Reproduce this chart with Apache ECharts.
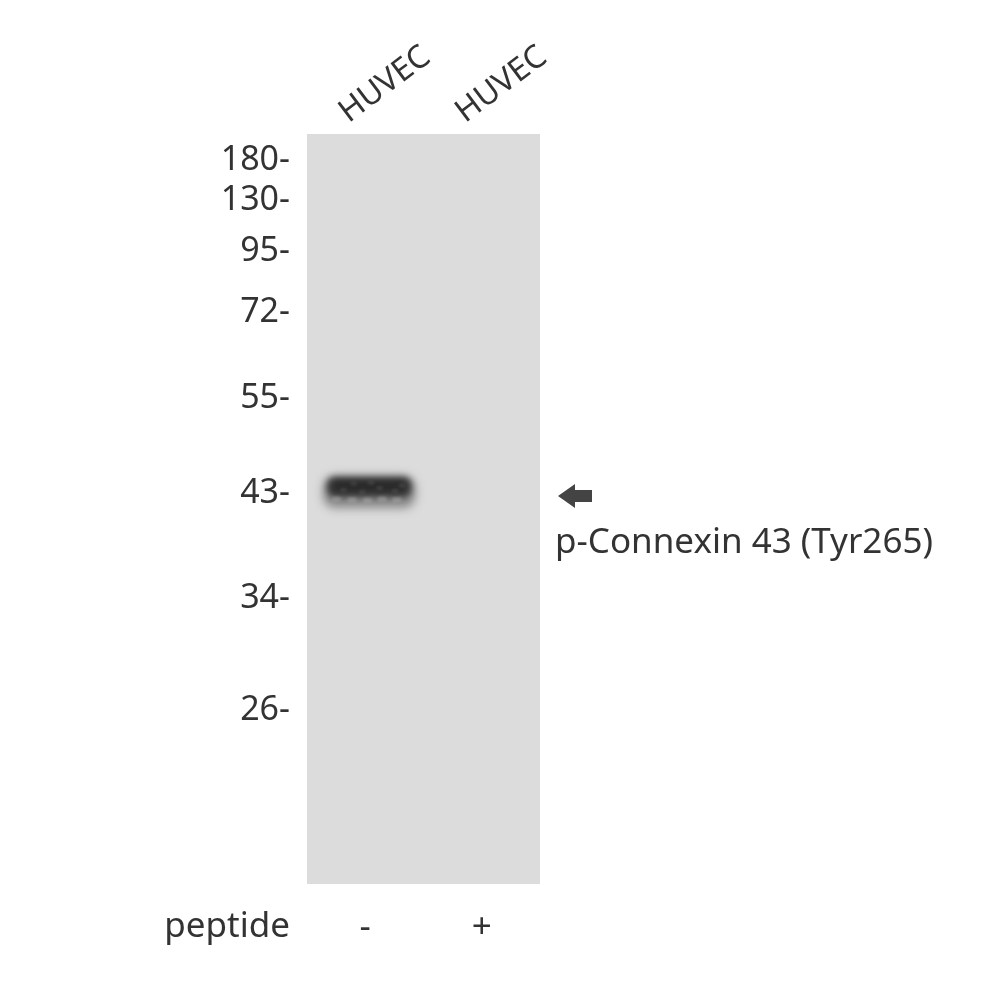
<!DOCTYPE html>
<html>
<head>
    <meta charset="UTF-8">
    <title>p-Connexin 43 (Tyr265) western blot</title>
    <style>
        html, body {
            margin: 0;
            padding: 0;
            background: #ffffff;
        }

        #chart {
            width: 1000px;
            height: 1000px;
        }
    </style>
    <script type="text/javascript" src="https://cdn.jsdelivr.net/npm/echarts@6/dist/echarts.min.js"></script>
</head>
<body>
<div id="chart"></div>
<script>
    // lane labels (top) and peptide treatment (bottom)
    const laneNames = ['HUVEC', 'HUVEC'];
    const peptide = ['-', '+'];

    // molecular weight ladder (kDa) and where each marker runs on the membrane
    // (0 = top of the blot, 750 = bottom)
    const markerKDa = [180, 130, 95, 72, 55, 43, 34, 26];
    const markerPos = [26.5, 66, 117, 178, 264, 359, 464, 576];

    // detected bands: [lane index, migration, relative intensity]
    const bands = [[0, 355, 1.0]];

    const target = 'p-Connexin 43 (Tyr265)';

    const FONT = 'Noto Sans';
    const TEXT = '#333333';
    // shapes are drawn off screen and only their blurred shadow lands on the blot
    const OFF = 3000;

    let chart = echarts.init(document.getElementById('chart'), null, {renderer: 'canvas'});

    function blob(cx, cy, w, h, r, blur, color) {
        return {
            type: 'rect',
            shape: {x: cx - w / 2 - OFF, y: cy - h / 2, width: w, height: h, r: r},
            style: {fill: '#000', shadowBlur: blur, shadowOffsetX: OFF, shadowColor: color}
        };
    }

    function renderBand(params, api) {
        let c = api.coord([api.value(0), api.value(1)]);
        let laneW = api.size([1, 0])[0];
        let k = api.value(2);
        let x = c[0] + 4;
        let y = c[1];
        let w = laneW * 0.74;
        let children = [
            // faint grey smear around and below the band
            blob(x, y + 3, w + 6, 32, 12, 10, 'rgba(80,80,80,' + 0.6 * k + ')'),
            // dark core
            blob(x, y - 2, w - 2, 20, 8, 6, 'rgba(40,40,40,' + 0.85 * k + ')'),
            blob(x, y - 3, w - 16, 10, 5, 5, 'rgba(30,30,30,' + 0.45 * k + ')')
        ];
        // mottled texture of the film
        let speck = [
            [-0.38, 0.55], [-0.2, 0.6], [-0.02, 0.62], [0.15, 0.55], [0.32, 0.6],
            [-0.3, 0.05], [-0.08, 0.15], [0.12, -0.05], [0.3, 0.1], [-0.18, -0.3], [0.38, -0.2], [0.02, -0.35]
        ];
        speck.forEach(function (s) {
            let low = s[1] > 0.3;
            children.push(blob(x + s[0] * w, y + s[1] * 18, low ? 9 : 7, low ? 5 : 4, 2, 3,
                low ? 'rgba(190,190,190,0.35)' : 'rgba(110,110,110,0.3)'));
        });
        return {type: 'group', children: children};
    }

    let option = {
        animation: false,
        backgroundColor: '#ffffff',
        grid: [
            {left: 307, top: 134, width: 233, height: 750, show: true, backgroundColor: '#dcdcdc', borderWidth: 0},
            // helper grid, only carries the rotated lane names
            {left: 285, top: 134, width: 233, height: 750, show: false}
        ],
        xAxis: [
            {
                gridIndex: 0,
                type: 'category',
                data: peptide,
                position: 'bottom',
                axisLine: {show: false},
                axisTick: {show: false},
                axisLabel: {interval: 0, margin: 27, fontSize: 35, fontFamily: FONT, color: TEXT}
            },
            {
                gridIndex: 1,
                type: 'category',
                data: laneNames,
                position: 'top',
                axisLine: {show: false},
                axisTick: {show: false},
                axisLabel: {interval: 0, rotate: 37, margin: 18, fontSize: 32, fontFamily: FONT, color: TEXT}
            }
        ],
        yAxis: [
            {
                gridIndex: 0,
                type: 'value',
                min: 0,
                max: 750,
                inverse: true,
                splitLine: {show: false},
                axisLine: {show: false},
                axisTick: {show: false},
                axisLabel: {
                    customValues: markerPos,
                    formatter: function (v) {
                        return markerKDa[markerPos.indexOf(v)] + '-';
                    },
                    margin: 17,
                    padding: [8, 0, 0, 0],
                    fontSize: 34,
                    fontFamily: FONT,
                    color: TEXT
                }
            },
            {gridIndex: 1, type: 'value', show: false}
        ],
        series: [
            {
                type: 'custom',
                name: 'band',
                xAxisIndex: 0,
                yAxisIndex: 0,
                data: bands,
                renderItem: renderBand,
                silent: true
            }
        ],
        graphic: [
            {
                type: 'text',
                x: 290,
                y: 927,
                style: {text: 'peptide', fontSize: 35, fontFamily: FONT, fill: TEXT, align: 'right', verticalAlign: 'middle'}
            },
            {
                type: 'polygon',
                shape: {points: [[558, 496], [575, 484], [575, 490], [592, 490], [592, 502], [575, 502], [575, 508]]},
                style: {fill: '#444444'}
            },
            {
                type: 'text',
                x: 555,
                y: 543,
                style: {text: target, fontSize: 35, fontFamily: FONT, fill: TEXT, align: 'left', verticalAlign: 'middle'}
            }
        ]
    };

    chart.setOption(option);
</script>
</body>
</html>
